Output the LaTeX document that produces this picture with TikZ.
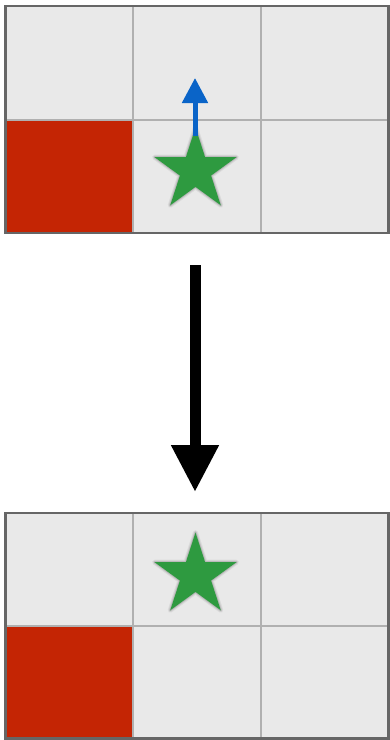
\documentclass[tikz,border=0pt]{standalone}
\usetikzlibrary{arrows.meta}
\definecolor{cellgray}{HTML}{E9E9E9}
\definecolor{innerline}{HTML}{B0B0B0}
\definecolor{outerline}{HTML}{666666}
\definecolor{wallred}{HTML}{C42504}
\definecolor{stargreen}{HTML}{2E9A40}
\definecolor{arrowblue}{HTML}{0A64C8}
\newcommand\mystarpath{(-90:43) -- (-54:16.4) -- (-18:43) -- (18:16.4) -- (54:43) -- (90:16.4)
      -- (126:43) -- (162:16.4) -- (198:43) -- (234:16.4) -- cycle}
\newcommand\drawmystar[1]{%
  \begin{scope}[shift={(#1)}]
    \draw[black,opacity=0.06,line width=5pt,line join=round] \mystarpath;
    \draw[black,opacity=0.08,line width=3pt,line join=round] \mystarpath;
    \draw[black,opacity=0.10,line width=1.5pt,line join=round] \mystarpath;
    \fill[stargreen] \mystarpath;
  \end{scope}}
\tikzset{
  innergrid/.style={innerline,line width=2.4pt},
  outergrid/.style={outerline,line width=2.5pt},
  bluearrow/.style={arrowblue,line width=5pt,-{Triangle[length=25pt,width=25pt]}},
  bigarrow/.style={black,line width=11pt,-{Triangle[length=47pt,width=45pt]}}
}
\begin{document}
\begin{tikzpicture}[x=1pt,y=-1pt]
\useasboundingbox (0,0) rectangle (390,740);
% ---- top grid ----
\fill[cellgray] (5.5,6) rectangle (388.5,233);
\fill[wallred] (5.5,120) rectangle (133,233);
\draw[innergrid] (133,6) -- (133,233) (261,6) -- (261,233) (5.5,120) -- (388.5,120);
\draw[outergrid] (5.5,6) rectangle (388.5,233);
\drawmystar{195.5,170.5}
\coordinate (blueS) at (195,136);
\coordinate (blueE) at (195,78);
\draw[bluearrow] (blueS) -- (blueE);
% ---- transition arrow ----
\coordinate (bigS) at (195,265);
\coordinate (bigE) at (195,492);
\draw[bigarrow] (bigS) -- (bigE);
% ---- bottom grid ----
\fill[cellgray] (5.5,513) rectangle (388.5,738.5);
\fill[wallred] (5.5,626) rectangle (133,738.5);
\draw[innergrid] (133,513) -- (133,738.5) (261,513) -- (261,738.5) (5.5,626) -- (388.5,626);
\draw[outergrid] (5.5,513) rectangle (388.5,738.5);
\drawmystar{195.5,575.5}
\end{tikzpicture}
\end{document}
